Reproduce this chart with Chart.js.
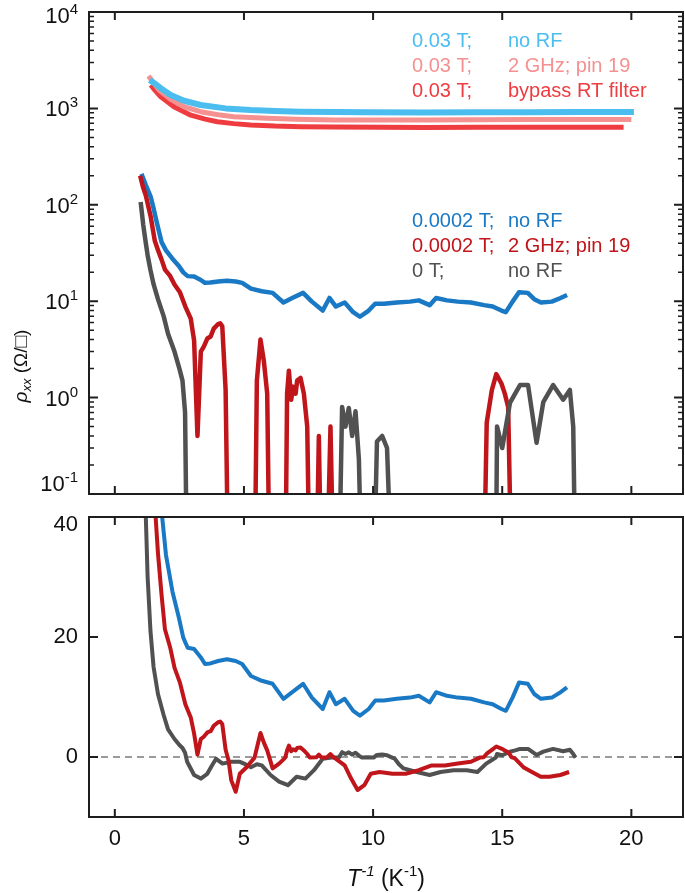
<!DOCTYPE html>
<html>
<head>
<meta charset="utf-8">
<script src="https://cdn.jsdelivr.net/npm/chart.js@4.4.1/dist/chart.umd.min.js"></script>
<style>
  html, body { margin: 0; padding: 0; background: #fff; }
  #wrap { position: relative; width: 685px; height: 893px; }
  canvas { position: absolute; left: 0; }
  #topChart { top: 0; }
  #bottomChart { top: 500px; }
</style>
</head>
<body>
<div id="wrap">
  <canvas id="topChart" width="685" height="500"></canvas>
  <canvas id="bottomChart" width="685" height="393"></canvas>
</div>
<script>
// TICKS
const xTicks   = [0, 5, 10, 15, 20];
const logExps  = [-1, 0, 1, 2, 3, 4];
const linTicks = [0, 20, 40];

// DATA: [1/T (K^-1), rho_xx (Ohm/sq)]
// 0.03 T curves (top panel only)
const hiNoRF = [[1.35,1970],[1.5,1850],[1.78,1620],[2.16,1380],[2.68,1200],[3.32,1085],[4.29,1000],[5.26,962],[6.2,940],[7.19,924],[8.5,915],[9.77,912],[12,908],[14,910],[16,912],[18,915],[20.1,920]];
const hiRF   = [[1.3,2170],[1.5,1850],[1.71,1550],[2.16,1240],[2.68,1040],[3.32,925],[4.0,860],[4.61,820],[5.9,790],[7.0,772],[8.48,760],[10,758],[12,760],[14,762],[16,765],[18,766],[20.0,768]];
const hiBypass = [[1.39,1750],[1.55,1550],[1.78,1320],[2.29,1040],[2.94,850],[3.5,775],[3.97,728],[4.6,695],[5.26,673],[6.2,655],[7.19,646],[8.5,640],[10.4,637],[12,635],[14,636],[16,637],[18,637],[19.7,637]];

// low-field curves (both panels)
const loNoRF = [[1.03,209],[1.2,160],[1.39,121],[1.5,92],[1.6,70],[1.7,54],[1.81,41],[1.98,33.7],[2.23,27.6],[2.48,23.2],[2.65,19.9],[2.82,18.2],[3.07,18.0],[3.33,16.6],[3.49,15.5],[3.7,15.6],[4.0,16.0],[4.34,16.3],[4.68,16.0],[4.93,15.5],[5.27,13.5],[5.69,12.7],[6.11,12.2],[6.53,9.7],[6.87,10.8],[7.29,12.2],[7.63,9.9],[8.05,8.0],[8.31,10.8],[8.56,8.8],[8.9,9.7],[9.23,7.7],[9.49,6.9],[9.83,8.0],[10.08,9.4],[10.42,9.4],[10.92,9.7],[11.43,9.9],[11.77,10.2],[12.19,9.1],[12.44,10.8],[12.86,10.2],[13.28,9.9],[13.79,9.7],[14.3,9.1],[14.63,8.8],[14.97,8.0],[15.14,7.7],[15.4,9.9],[15.65,12.4],[15.99,12.2],[16.24,10.5],[16.5,9.7],[16.92,9.9],[17.26,10.8],[17.51,11.6]];
const loRF = [[0.98,200],[1.1,150],[1.2,125],[1.39,75],[1.55,42],[1.67,34],[1.81,27],[1.94,21.3],[2.14,18.3],[2.31,14.9],[2.52,12.4],[2.73,8.8],[2.94,6.6],[3.07,3.9],[3.2,0.4],[3.33,3.0],[3.45,3.4],[3.58,4.1],[3.71,4.3],[3.83,5.2],[4.0,5.8],[4.08,5.9],[4.16,5.5],[4.29,1.2],[4.4,-0.5],[4.51,-3.9],[4.68,-5.8],[4.84,-2.8],[5.1,-1.7],[5.41,-0.1],[5.5,1.5],[5.64,4.0],[5.77,2.4],[5.9,1.1],[6.0,-0.3],[6.11,-1.9],[6.36,-1.1],[6.6,-0.1],[6.67,1.1],[6.74,1.9],[6.83,0.95],[6.9,1.3],[7.0,1.1],[7.06,1.5],[7.19,1.6],[7.32,1.1],[7.45,0.5],[7.55,-0.1],[7.8,-0.05],[7.9,0.4],[8.0,-0.05],[8.2,-0.1],[8.35,0.5],[8.48,-0.1],[8.56,-0.3],[8.9,-1.4],[9.15,-3.6],[9.4,-5.5],[9.66,-4.7],[9.91,-2.8],[10.25,-2.5],[10.75,-2.8],[11.26,-2.8],[11.77,-2.2],[12.27,-1.4],[12.78,-1.4],[13.28,-1.1],[13.79,-0.8],[14.13,-0.1],[14.28,-0.05],[14.4,0.55],[14.6,1.2],[14.77,1.75],[14.97,1.4],[15.1,1.1],[15.23,0.8],[15.37,-0.05],[15.48,-0.2],[15.82,-1.7],[16.15,-2.5],[16.49,-3.3],[16.83,-3.3],[17.25,-3.0],[17.59,-2.5]];
const zeroField = [[1.0,107],[1.1,62],[1.2,40],[1.27,30],[1.38,21],[1.5,15],[1.67,10.5],[1.89,7.0],[2.06,4.6],[2.31,3.0],[2.5,2.0],[2.62,1.5],[2.72,0.7],[2.8,-0.8],[3.07,-3.0],[3.33,-3.6],[3.58,-2.8],[3.75,-1.5],[3.92,-0.3],[4.17,-1.1],[4.51,-0.8],[4.84,-0.8],[5.05,-1.2],[5.27,-1.7],[5.5,-1.2],[5.69,-1.4],[6.03,-3.0],[6.36,-4.1],[6.7,-4.7],[7.04,-3.3],[7.38,-3.6],[7.71,-2.2],[8.05,-0.3],[8.39,-0.1],[8.67,-0.1],[8.8,0.8],[8.93,0.5],[9.06,0.78],[9.19,0.4],[9.32,0.72],[9.45,0.23],[9.57,-0.1],[9.8,-0.05],[10.02,-0.1],[10.15,0.35],[10.35,0.4],[10.54,0.3],[10.74,-0.1],[10.84,-0.3],[11.0,-1.2],[11.18,-1.9],[11.69,-2.5],[12.19,-3.0],[12.61,-2.5],[13.12,-2.2],[13.63,-2.2],[14.04,-2.5],[14.38,-1.1],[14.6,-0.5],[14.75,-0.1],[14.8,0.5],[15.0,0.3],[15.3,0.88],[15.5,1.1],[15.69,1.35],[16.0,1.35],[16.33,0.34],[16.59,0.9],[16.97,1.35],[17.36,0.95],[17.62,1.2],[17.75,0.5],[17.84,-0.1]];

// STYLE
const FONT = '"Liberation Sans", Arial, Helvetica, sans-serif';
const AXIS = '#1e1e1e';
const C = {
  hiNoRF: '#4bbdee', hiRF: '#f59191', hiBypass: '#ee3c40',
  loNoRF: '#1a79c4', loRF: '#c0151a', zero: '#515151'
};
const LOG_FLOOR = 0.01; // log axis can't show <= 0, push those below 0.1

function pts(arr, logAxis) {
  return arr.map(([x, y]) => ({ x, y: logAxis ? Math.max(y, LOG_FLOOR) : y }));
}
function ds(arr, color, width, logAxis) {
  return { data: pts(arr, logAxis), borderColor: color, borderWidth: width,
           pointRadius: 0, tension: 0, fill: false, clip: 0,
           borderJoinStyle: 'round', borderCapStyle: 'butt' };
}

// text runs with super/subscripts
function font(r) { return `${r.italic ? 'italic ' : ''}${r.size}px ${FONT}`; }
function runsWidth(ctx, runs) {
  let w = 0;
  runs.forEach(r => { ctx.font = font(r); w += ctx.measureText(r.t).width; });
  return w;
}
function drawRuns(ctx, runs, x, y, align) {
  const w = runsWidth(ctx, runs);
  let cx = align === 'right' ? x - w : align === 'center' ? x - w / 2 : x;
  ctx.textAlign = 'left';
  ctx.textBaseline = 'alphabetic';
  runs.forEach(r => {
    ctx.font = font(r);
    ctx.fillText(r.t, cx, y + (r.dy || 0));
    cx += ctx.measureText(r.t).width;
  });
}

function frame(ctx, a) {
  ctx.strokeStyle = AXIS;
  ctx.lineWidth = 2;
  ctx.strokeRect(a.left, a.top, a.right - a.left, a.bottom - a.top);
}
function xTickMarks(ctx, a, xs) {
  ctx.lineWidth = 2;
  xTicks.forEach(v => {
    const p = xs.getPixelForValue(v);
    ctx.beginPath();
    ctx.moveTo(p, a.bottom); ctx.lineTo(p, a.bottom - 8);
    ctx.moveTo(p, a.top); ctx.lineTo(p, a.top + 8);
    ctx.stroke();
  });
}
function yTickMark(ctx, a, p, len, lw) {
  ctx.lineWidth = lw;
  ctx.beginPath();
  ctx.moveTo(a.left, p); ctx.lineTo(a.left + len, p);
  ctx.moveTo(a.right, p); ctx.lineTo(a.right - len, p);
  ctx.stroke();
}

const topDecor = {
  id: 'topDecor',
  afterDraw(chart) {
    const { ctx, chartArea: a, scales: { x, y } } = chart;
    ctx.save();
    frame(ctx, a);
    xTickMarks(ctx, a, x);
    // log ticks
    ctx.strokeStyle = AXIS;
    logExps.forEach(e => {
      const lim = e === logExps[logExps.length - 1] ? 1 : 9;
      for (let m = 1; m <= lim; m++) {
        const p = y.getPixelForValue(m * Math.pow(10, e));
        yTickMark(ctx, a, p, m === 1 ? 9 : 5, m === 1 ? 2 : 1.5);
      }
    });
    // log labels
    ctx.fillStyle = '#111';
    logExps.forEach(e => {
      let p = y.getPixelForValue(Math.pow(10, e));
      if (p - a.top < 8) p += 3;
      if (a.bottom - p < 8) p -= 11;
      drawRuns(ctx, [{ t: '10', size: 22 }, { t: String(e), size: 15, dy: -9 }], 78, p + 8, 'right');
    });
    // legends
    const leg = [
      ['0.03 T;', 'no RF', C.hiNoRF, 47],
      ['0.03 T;', '2 GHz; pin 19', C.hiRF, 72],
      ['0.03 T;', 'bypass RT filter', C.hiBypass, 97],
      ['0.0002 T;', 'no RF', C.loNoRF, 227],
      ['0.0002 T;', '2 GHz; pin 19', C.loRF, 252],
      ['0 T;', 'no RF', C.zero, 277]
    ];
    ctx.font = `20px ${FONT}`;
    ctx.textAlign = 'left';
    ctx.textBaseline = 'alphabetic';
    leg.forEach(([a1, b1, col, by]) => {
      ctx.fillStyle = col;
      ctx.fillText(a1, 412, by);
      ctx.fillText(b1, 508, by);
    });
    // y title
    ctx.fillStyle = '#111';
    ctx.translate(27, 366);
    ctx.rotate(-Math.PI / 2);
    drawRuns(ctx, [
      { t: '\u03C1', size: 19, italic: true },
      { t: 'xx', size: 13, italic: true, dy: 4 },
      { t: ' (\u03A9/\u25A1)', size: 19 }
    ], 0, 0, 'center');
    ctx.restore();
  }
};

const bottomDecor = {
  id: 'bottomDecor',
  beforeDatasetsDraw(chart) {
    const { ctx, chartArea: a, scales: { y } } = chart;
    const p = y.getPixelForValue(0);
    ctx.save();
    ctx.strokeStyle = '#9a9a9a';
    ctx.lineWidth = 2;
    ctx.setLineDash([7, 5]);
    ctx.beginPath();
    ctx.moveTo(a.left, p); ctx.lineTo(a.right, p);
    ctx.stroke();
    ctx.restore();
  },
  afterDraw(chart) {
    const { ctx, chartArea: a, scales: { x, y } } = chart;
    ctx.save();
    frame(ctx, a);
    xTickMarks(ctx, a, x);
    ctx.strokeStyle = AXIS;
    linTicks.forEach(v => yTickMark(ctx, a, y.getPixelForValue(v), 9, 2));
    ctx.fillStyle = '#111';
    ctx.font = `22px ${FONT}`;
    ctx.textBaseline = 'middle';
    ctx.textAlign = 'right';
    linTicks.forEach(v => {
      let p = y.getPixelForValue(v);
      if (p - a.top < 8) p += 8;
      ctx.fillText(String(v), 78, p);
    });
    ctx.textAlign = 'center';
    xTicks.forEach(v => ctx.fillText(String(v), x.getPixelForValue(v), a.bottom + 22));
    drawRuns(ctx, [
      { t: 'T', size: 23, italic: true },
      { t: '-1', size: 15, italic: true, dy: -10 },
      { t: ' (K', size: 23 },
      { t: '-1', size: 15, dy: -10 },
      { t: ')', size: 23 }
    ], x.getPixelForValue(10.5), a.bottom + 69, 'center');
    ctx.restore();
  }
};

function baseOptions(yScale, padding) {
  return {
    responsive: false,
    animation: false,
    events: [],
    layout: { padding },
    plugins: { legend: { display: false }, tooltip: { enabled: false } },
    scales: {
      x: { type: 'linear', min: -1, max: 22, display: false },
      y: Object.assign({ display: false }, yScale)
    }
  };
}

new Chart(document.getElementById('topChart'), {
  type: 'line',
  data: { datasets: [
    ds(zeroField, C.zero, 4.5, true),
    ds(loRF, C.loRF, 4.5, true),
    ds(loNoRF, C.loNoRF, 4.5, true),
    ds(hiNoRF, C.hiNoRF, 6, true),
    ds(hiRF, C.hiRF, 5, true),
    ds(hiBypass, C.hiBypass, 5, true)
  ] },
  options: baseOptions({ type: 'logarithmic', min: 0.1, max: 10000 },
                       { left: 89, right: 2, top: 12, bottom: 6 }),
  plugins: [topDecor]
});

new Chart(document.getElementById('bottomChart'), {
  type: 'line',
  data: { datasets: [
    ds(loRF, C.loRF, 4, false),
    ds(zeroField, C.zero, 4, false),
    ds(loNoRF, C.loNoRF, 4, false)
  ] },
  options: baseOptions({ type: 'linear', min: -10, max: 40 },
                       { left: 89, right: 2, top: 17, bottom: 76 }),
  plugins: [bottomDecor]
});
</script>
</body>
</html>
